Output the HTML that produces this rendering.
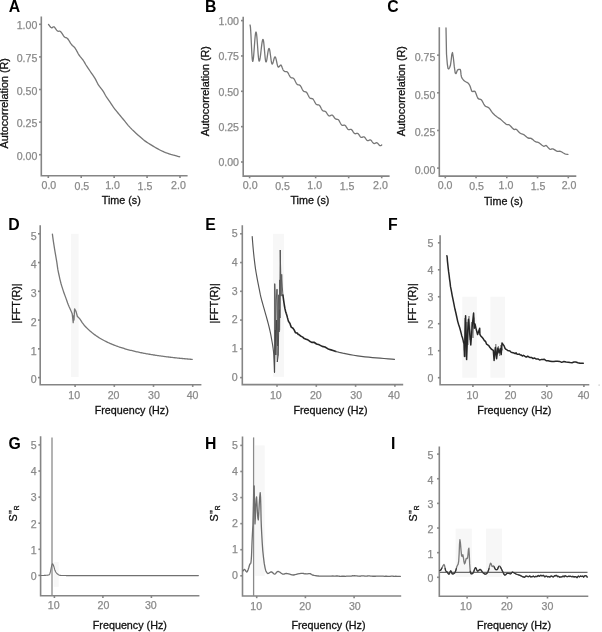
<!DOCTYPE html>
<html><head><meta charset="utf-8"><style>
html,body{margin:0;padding:0;background:#fff;}
svg{display:block;will-change:transform;}
text{font-family:"Liberation Sans",sans-serif;}
.tk{font-size:10.6px;fill:#8a8a8a;stroke:#8a8a8a;stroke-width:0.25px;}
.tt{font-size:10.75px;fill:#111;stroke:#111;stroke-width:0.3px;}
.lt{font-size:15.8px;font-weight:bold;fill:#000;}
</style></head><body>
<svg width="602" height="632" viewBox="0 0 602 632">
<rect width="602" height="632" fill="#fff"/>
<path d="M41.3,17.3 L41.3,175.8 L186.8,175.8" fill="none" stroke="#858585" stroke-width="1.6" stroke-linejoin="miter" stroke-linecap="square"/>
<line x1="39.099999999999994" y1="154.7" x2="41.3" y2="154.7" stroke="#858585" stroke-width="1.6"/>
<text x="37.3" y="159.75" text-anchor="end" class="tk">0.00</text>
<line x1="39.099999999999994" y1="122.1" x2="41.3" y2="122.1" stroke="#858585" stroke-width="1.6"/>
<text x="37.3" y="127.15" text-anchor="end" class="tk">0.25</text>
<line x1="39.099999999999994" y1="89.49999999999999" x2="41.3" y2="89.49999999999999" stroke="#858585" stroke-width="1.6"/>
<text x="37.3" y="94.55" text-anchor="end" class="tk">0.50</text>
<line x1="39.099999999999994" y1="56.89999999999998" x2="41.3" y2="56.89999999999998" stroke="#858585" stroke-width="1.6"/>
<text x="37.3" y="61.95" text-anchor="end" class="tk">0.75</text>
<line x1="39.099999999999994" y1="24.299999999999983" x2="41.3" y2="24.299999999999983" stroke="#858585" stroke-width="1.6"/>
<text x="37.3" y="29.35" text-anchor="end" class="tk">1.00</text>
<line x1="48.3" y1="175.8" x2="48.3" y2="178.0" stroke="#858585" stroke-width="1.6"/>
<text x="48.87" y="189.20" text-anchor="middle" class="tk">0.0</text>
<line x1="81.225" y1="175.8" x2="81.225" y2="178.0" stroke="#858585" stroke-width="1.6"/>
<text x="81.86" y="190.00" text-anchor="middle" class="tk">0.5</text>
<line x1="114.14999999999999" y1="175.8" x2="114.14999999999999" y2="178.0" stroke="#858585" stroke-width="1.6"/>
<text x="112.51" y="189.20" text-anchor="middle" class="tk">1.0</text>
<line x1="147.075" y1="175.8" x2="147.075" y2="178.0" stroke="#858585" stroke-width="1.6"/>
<text x="144.97" y="190.00" text-anchor="middle" class="tk">1.5</text>
<line x1="180.0" y1="175.8" x2="180.0" y2="178.0" stroke="#858585" stroke-width="1.6"/>
<text x="178.49" y="189.20" text-anchor="middle" class="tk">2.0</text>
<text x="121.3" y="203.9" text-anchor="middle" class="tt">Time (s)</text>
<text transform="translate(8.2,103.3) rotate(-90)" x="0" y="0" text-anchor="middle" class="tt">Autocorrelation (R)</text>
<text x="8.7" y="12.1" class="lt">A</text>
<path d="M243.2,17.5 L243.2,176.1 L388.8,176.1" fill="none" stroke="#858585" stroke-width="1.6" stroke-linejoin="miter" stroke-linecap="square"/>
<line x1="241.0" y1="162.0" x2="243.2" y2="162.0" stroke="#858585" stroke-width="1.6"/>
<text x="239.0" y="166.35" text-anchor="end" class="tk">0.00</text>
<line x1="241.0" y1="126.65" x2="243.2" y2="126.65" stroke="#858585" stroke-width="1.6"/>
<text x="239.0" y="131.00" text-anchor="end" class="tk">0.25</text>
<line x1="241.0" y1="91.3" x2="243.2" y2="91.3" stroke="#858585" stroke-width="1.6"/>
<text x="239.0" y="95.65" text-anchor="end" class="tk">0.50</text>
<line x1="241.0" y1="55.94999999999999" x2="243.2" y2="55.94999999999999" stroke="#858585" stroke-width="1.6"/>
<text x="239.0" y="60.30" text-anchor="end" class="tk">0.75</text>
<line x1="241.0" y1="20.599999999999994" x2="243.2" y2="20.599999999999994" stroke="#858585" stroke-width="1.6"/>
<text x="239.0" y="24.95" text-anchor="end" class="tk">1.00</text>
<line x1="249.6" y1="176.1" x2="249.6" y2="178.29999999999998" stroke="#858585" stroke-width="1.6"/>
<text x="250.21" y="189.00" text-anchor="middle" class="tk">0.0</text>
<line x1="282.625" y1="176.1" x2="282.625" y2="178.29999999999998" stroke="#858585" stroke-width="1.6"/>
<text x="282.57" y="189.50" text-anchor="middle" class="tk">0.5</text>
<line x1="315.65" y1="176.1" x2="315.65" y2="178.29999999999998" stroke="#858585" stroke-width="1.6"/>
<text x="314.69" y="189.00" text-anchor="middle" class="tk">1.0</text>
<line x1="348.67499999999995" y1="176.1" x2="348.67499999999995" y2="178.29999999999998" stroke="#858585" stroke-width="1.6"/>
<text x="347.09" y="189.50" text-anchor="middle" class="tk">1.5</text>
<line x1="381.7" y1="176.1" x2="381.7" y2="178.29999999999998" stroke="#858585" stroke-width="1.6"/>
<text x="380.42" y="189.00" text-anchor="middle" class="tk">2.0</text>
<text x="309.9" y="204.1" text-anchor="middle" class="tt">Time (s)</text>
<text transform="translate(208.6,91.2) rotate(-90)" x="0" y="0" text-anchor="middle" class="tt">Autocorrelation (R)</text>
<text x="204.9" y="12.1" class="lt">B</text>
<path d="M439.3,28.0 L439.3,176.1 L575.5,176.1" fill="none" stroke="#858585" stroke-width="1.6" stroke-linejoin="miter" stroke-linecap="square"/>
<line x1="437.1" y1="168.1" x2="439.3" y2="168.1" stroke="#858585" stroke-width="1.6"/>
<text x="435.3" y="173.85" text-anchor="end" class="tk">0.00</text>
<line x1="437.1" y1="130.45" x2="439.3" y2="130.45" stroke="#858585" stroke-width="1.6"/>
<text x="435.3" y="136.20" text-anchor="end" class="tk">0.25</text>
<line x1="437.1" y1="92.8" x2="439.3" y2="92.8" stroke="#858585" stroke-width="1.6"/>
<text x="435.3" y="98.55" text-anchor="end" class="tk">0.50</text>
<line x1="437.1" y1="55.150000000000006" x2="439.3" y2="55.150000000000006" stroke="#858585" stroke-width="1.6"/>
<text x="435.3" y="60.90" text-anchor="end" class="tk">0.75</text>
<line x1="445.3" y1="176.1" x2="445.3" y2="178.29999999999998" stroke="#858585" stroke-width="1.6"/>
<text x="445.16" y="188.50" text-anchor="middle" class="tk">0.0</text>
<line x1="476.05" y1="176.1" x2="476.05" y2="178.29999999999998" stroke="#858585" stroke-width="1.6"/>
<text x="476.51" y="189.50" text-anchor="middle" class="tk">0.5</text>
<line x1="506.8" y1="176.1" x2="506.8" y2="178.29999999999998" stroke="#858585" stroke-width="1.6"/>
<text x="505.97" y="188.50" text-anchor="middle" class="tk">1.0</text>
<line x1="537.55" y1="176.1" x2="537.55" y2="178.29999999999998" stroke="#858585" stroke-width="1.6"/>
<text x="538.03" y="189.50" text-anchor="middle" class="tk">1.5</text>
<line x1="568.3" y1="176.1" x2="568.3" y2="178.29999999999998" stroke="#858585" stroke-width="1.6"/>
<text x="569.04" y="188.50" text-anchor="middle" class="tk">2.0</text>
<text x="503.4" y="204.5" text-anchor="middle" class="tt">Time (s)</text>
<text transform="translate(405.0,91.2) rotate(-90)" x="0" y="0" text-anchor="middle" class="tt">Autocorrelation (R)</text>
<text x="387.3" y="12.1" class="lt">C</text>
<rect x="70.9" y="233.8" width="7.70" height="143.20" fill="#f7f7f7"/>
<path d="M40.2,226.1 L40.2,384.7 L200.6,384.7" fill="none" stroke="#858585" stroke-width="1.6" stroke-linejoin="miter" stroke-linecap="square"/>
<line x1="38.0" y1="377.6" x2="40.2" y2="377.6" stroke="#858585" stroke-width="1.6"/>
<text x="36.6" y="383.45" text-anchor="end" class="tk">0</text>
<line x1="38.0" y1="348.84000000000003" x2="40.2" y2="348.84000000000003" stroke="#858585" stroke-width="1.6"/>
<text x="36.6" y="354.69" text-anchor="end" class="tk">1</text>
<line x1="38.0" y1="320.08000000000004" x2="40.2" y2="320.08000000000004" stroke="#858585" stroke-width="1.6"/>
<text x="36.6" y="325.93" text-anchor="end" class="tk">2</text>
<line x1="38.0" y1="291.32000000000005" x2="40.2" y2="291.32000000000005" stroke="#858585" stroke-width="1.6"/>
<text x="36.6" y="297.17" text-anchor="end" class="tk">3</text>
<line x1="38.0" y1="262.56" x2="40.2" y2="262.56" stroke="#858585" stroke-width="1.6"/>
<text x="36.6" y="268.41" text-anchor="end" class="tk">4</text>
<line x1="38.0" y1="233.8" x2="40.2" y2="233.8" stroke="#858585" stroke-width="1.6"/>
<text x="36.6" y="239.65" text-anchor="end" class="tk">5</text>
<line x1="75.1" y1="384.7" x2="75.1" y2="386.9" stroke="#858585" stroke-width="1.6"/>
<text x="74.17" y="398.60" text-anchor="middle" class="tk">10</text>
<line x1="114.3" y1="384.7" x2="114.3" y2="386.9" stroke="#858585" stroke-width="1.6"/>
<text x="113.55" y="398.60" text-anchor="middle" class="tk">20</text>
<line x1="153.5" y1="384.7" x2="153.5" y2="386.9" stroke="#858585" stroke-width="1.6"/>
<text x="153.95" y="398.60" text-anchor="middle" class="tk">30</text>
<line x1="192.7" y1="384.7" x2="192.7" y2="386.9" stroke="#858585" stroke-width="1.6"/>
<text x="192.55" y="398.60" text-anchor="middle" class="tk">40</text>
<text x="131.7" y="414.3" text-anchor="middle" class="tt">Frequency (Hz)</text>
<text transform="translate(19.6,303.5) rotate(-90)" x="0" y="0" text-anchor="middle" class="tt">|FFT(R)|</text>
<text x="8.2" y="229.6" class="lt">D</text>
<rect x="273.1" y="233.8" width="11.00" height="143.00" fill="#f7f7f7"/>
<path d="M242.3,226.1 L242.3,384.6 L402.4,384.6" fill="none" stroke="#858585" stroke-width="1.6" stroke-linejoin="miter" stroke-linecap="square"/>
<line x1="240.10000000000002" y1="377.6" x2="242.3" y2="377.6" stroke="#858585" stroke-width="1.6"/>
<text x="237.70000000000002" y="380.85" text-anchor="end" class="tk">0</text>
<line x1="240.10000000000002" y1="348.84000000000003" x2="242.3" y2="348.84000000000003" stroke="#858585" stroke-width="1.6"/>
<text x="237.70000000000002" y="352.09" text-anchor="end" class="tk">1</text>
<line x1="240.10000000000002" y1="320.08000000000004" x2="242.3" y2="320.08000000000004" stroke="#858585" stroke-width="1.6"/>
<text x="237.70000000000002" y="323.33" text-anchor="end" class="tk">2</text>
<line x1="240.10000000000002" y1="291.32000000000005" x2="242.3" y2="291.32000000000005" stroke="#858585" stroke-width="1.6"/>
<text x="237.70000000000002" y="294.57" text-anchor="end" class="tk">3</text>
<line x1="240.10000000000002" y1="262.56" x2="242.3" y2="262.56" stroke="#858585" stroke-width="1.6"/>
<text x="237.70000000000002" y="265.81" text-anchor="end" class="tk">4</text>
<line x1="240.10000000000002" y1="233.8" x2="242.3" y2="233.8" stroke="#858585" stroke-width="1.6"/>
<text x="237.70000000000002" y="237.05" text-anchor="end" class="tk">5</text>
<line x1="277.0" y1="384.6" x2="277.0" y2="386.8" stroke="#858585" stroke-width="1.6"/>
<text x="275.88" y="398.60" text-anchor="middle" class="tk">10</text>
<line x1="316.3" y1="384.6" x2="316.3" y2="386.8" stroke="#858585" stroke-width="1.6"/>
<text x="315.78" y="398.60" text-anchor="middle" class="tk">20</text>
<line x1="355.6" y1="384.6" x2="355.6" y2="386.8" stroke="#858585" stroke-width="1.6"/>
<text x="356.20" y="398.60" text-anchor="middle" class="tk">30</text>
<line x1="394.9" y1="384.6" x2="394.9" y2="386.8" stroke="#858585" stroke-width="1.6"/>
<text x="393.96" y="398.60" text-anchor="middle" class="tk">40</text>
<text x="330.5" y="414.1" text-anchor="middle" class="tt">Frequency (Hz)</text>
<text transform="translate(217.9,303.4) rotate(-90)" x="0" y="0" text-anchor="middle" class="tt">|FFT(R)|</text>
<text x="205.2" y="229.6" class="lt">E</text>
<rect x="462.3" y="296.7" width="14.50" height="81.00" fill="#f7f7f7"/>
<rect x="490.4" y="296.7" width="14.50" height="81.00" fill="#f7f7f7"/>
<path d="M440.1,236.1 L440.1,384.8 L588.5,384.8" fill="none" stroke="#858585" stroke-width="1.6" stroke-linejoin="miter" stroke-linecap="square"/>
<line x1="437.90000000000003" y1="377.7" x2="440.1" y2="377.7" stroke="#858585" stroke-width="1.6"/>
<text x="433.5" y="381.85" text-anchor="end" class="tk">0</text>
<line x1="437.90000000000003" y1="350.71999999999997" x2="440.1" y2="350.71999999999997" stroke="#858585" stroke-width="1.6"/>
<text x="433.5" y="354.87" text-anchor="end" class="tk">1</text>
<line x1="437.90000000000003" y1="323.74" x2="440.1" y2="323.74" stroke="#858585" stroke-width="1.6"/>
<text x="433.5" y="327.89" text-anchor="end" class="tk">2</text>
<line x1="437.90000000000003" y1="296.76" x2="440.1" y2="296.76" stroke="#858585" stroke-width="1.6"/>
<text x="433.5" y="300.91" text-anchor="end" class="tk">3</text>
<line x1="437.90000000000003" y1="269.78" x2="440.1" y2="269.78" stroke="#858585" stroke-width="1.6"/>
<text x="433.5" y="273.93" text-anchor="end" class="tk">4</text>
<line x1="437.90000000000003" y1="242.79999999999998" x2="440.1" y2="242.79999999999998" stroke="#858585" stroke-width="1.6"/>
<text x="433.5" y="246.95" text-anchor="end" class="tk">5</text>
<line x1="472.9" y1="384.8" x2="472.9" y2="387.0" stroke="#858585" stroke-width="1.6"/>
<text x="472.42" y="398.80" text-anchor="middle" class="tk">10</text>
<line x1="509.9" y1="384.8" x2="509.9" y2="387.0" stroke="#858585" stroke-width="1.6"/>
<text x="510.56" y="398.80" text-anchor="middle" class="tk">20</text>
<line x1="546.9" y1="384.8" x2="546.9" y2="387.0" stroke="#858585" stroke-width="1.6"/>
<text x="546.67" y="398.80" text-anchor="middle" class="tk">30</text>
<line x1="583.9" y1="384.8" x2="583.9" y2="387.0" stroke="#858585" stroke-width="1.6"/>
<text x="583.60" y="398.80" text-anchor="middle" class="tk">40</text>
<text x="514.4" y="413.7" text-anchor="middle" class="tt">Frequency (Hz)</text>
<text transform="translate(415.9,303.4) rotate(-90)" x="0" y="0" text-anchor="middle" class="tt">|FFT(R)|</text>
<text x="387.9" y="229.6" class="lt">F</text>
<rect x="53.6" y="562.0" width="5.10" height="24.80" fill="#f7f7f7"/>
<path d="M40.6,437.1 L40.6,595.8 L198.6,595.8" fill="none" stroke="#858585" stroke-width="1.6" stroke-linejoin="miter" stroke-linecap="square"/>
<line x1="38.4" y1="575.4" x2="40.6" y2="575.4" stroke="#858585" stroke-width="1.6"/>
<text x="36.6" y="579.75" text-anchor="end" class="tk">0</text>
<line x1="38.4" y1="549.3" x2="40.6" y2="549.3" stroke="#858585" stroke-width="1.6"/>
<text x="36.6" y="553.65" text-anchor="end" class="tk">1</text>
<line x1="38.4" y1="523.1999999999999" x2="40.6" y2="523.1999999999999" stroke="#858585" stroke-width="1.6"/>
<text x="36.6" y="527.55" text-anchor="end" class="tk">2</text>
<line x1="38.4" y1="497.09999999999997" x2="40.6" y2="497.09999999999997" stroke="#858585" stroke-width="1.6"/>
<text x="36.6" y="501.45" text-anchor="end" class="tk">3</text>
<line x1="38.4" y1="471.0" x2="40.6" y2="471.0" stroke="#858585" stroke-width="1.6"/>
<text x="36.6" y="475.35" text-anchor="end" class="tk">4</text>
<line x1="38.4" y1="444.9" x2="40.6" y2="444.9" stroke="#858585" stroke-width="1.6"/>
<text x="36.6" y="449.25" text-anchor="end" class="tk">5</text>
<line x1="54.4" y1="595.8" x2="54.4" y2="598.0" stroke="#858585" stroke-width="1.6"/>
<text x="53.67" y="609.20" text-anchor="middle" class="tk">10</text>
<line x1="102.9" y1="595.8" x2="102.9" y2="598.0" stroke="#858585" stroke-width="1.6"/>
<text x="103.48" y="609.20" text-anchor="middle" class="tk">20</text>
<line x1="151.4" y1="595.8" x2="151.4" y2="598.0" stroke="#858585" stroke-width="1.6"/>
<text x="150.81" y="609.20" text-anchor="middle" class="tk">30</text>
<text x="129.85" y="629.1" text-anchor="middle" class="tt">Frequency (Hz)</text>
<g transform="translate(17.0,513.4) rotate(-90)"><text x="0" y="0" text-anchor="middle" class="tt">S<tspan font-size="10.6" dx="0.1">&quot;</tspan><tspan font-size="6.6" dy="2.0" dx="0.2">R</tspan></text></g>
<text x="8.4" y="448.5" class="lt">G</text>
<rect x="255.0" y="445.4" width="9.70" height="130.40" fill="#f7f7f7"/>
<path d="M242.5,437.4 L242.5,596.0 L400.4,596.0" fill="none" stroke="#858585" stroke-width="1.6" stroke-linejoin="miter" stroke-linecap="square"/>
<line x1="240.3" y1="575.8" x2="242.5" y2="575.8" stroke="#858585" stroke-width="1.6"/>
<text x="237.9" y="579.05" text-anchor="end" class="tk">0</text>
<line x1="240.3" y1="549.7199999999999" x2="242.5" y2="549.7199999999999" stroke="#858585" stroke-width="1.6"/>
<text x="237.9" y="552.97" text-anchor="end" class="tk">1</text>
<line x1="240.3" y1="523.64" x2="242.5" y2="523.64" stroke="#858585" stroke-width="1.6"/>
<text x="237.9" y="526.89" text-anchor="end" class="tk">2</text>
<line x1="240.3" y1="497.55999999999995" x2="242.5" y2="497.55999999999995" stroke="#858585" stroke-width="1.6"/>
<text x="237.9" y="500.81" text-anchor="end" class="tk">3</text>
<line x1="240.3" y1="471.47999999999996" x2="242.5" y2="471.47999999999996" stroke="#858585" stroke-width="1.6"/>
<text x="237.9" y="474.73" text-anchor="end" class="tk">4</text>
<line x1="240.3" y1="445.4" x2="242.5" y2="445.4" stroke="#858585" stroke-width="1.6"/>
<text x="237.9" y="448.65" text-anchor="end" class="tk">5</text>
<line x1="256.7" y1="596.0" x2="256.7" y2="598.2" stroke="#858585" stroke-width="1.6"/>
<text x="256.21" y="610.00" text-anchor="middle" class="tk">10</text>
<line x1="305.4" y1="596.0" x2="305.4" y2="598.2" stroke="#858585" stroke-width="1.6"/>
<text x="305.15" y="610.00" text-anchor="middle" class="tk">20</text>
<line x1="354.1" y1="596.0" x2="354.1" y2="598.2" stroke="#858585" stroke-width="1.6"/>
<text x="354.78" y="610.00" text-anchor="middle" class="tk">30</text>
<text x="328.5" y="629.2" text-anchor="middle" class="tt">Frequency (Hz)</text>
<g transform="translate(218.4,513.4) rotate(-90)"><text x="0" y="0" text-anchor="middle" class="tt">S<tspan font-size="10.6" dx="0.1">&quot;</tspan><tspan font-size="6.6" dy="2.0" dx="0.2">R</tspan></text></g>
<text x="205.1" y="448.6" class="lt">H</text>
<rect x="455.6" y="528.6" width="16.20" height="48.50" fill="#f7f7f7"/>
<rect x="486.0" y="528.6" width="16.10" height="48.50" fill="#f7f7f7"/>
<path d="M439.3,447.4 L439.3,596.3 L587.5,596.3" fill="none" stroke="#858585" stroke-width="1.6" stroke-linejoin="miter" stroke-linecap="square"/>
<line x1="437.1" y1="577.3" x2="439.3" y2="577.3" stroke="#858585" stroke-width="1.6"/>
<text x="433.40000000000003" y="582.35" text-anchor="end" class="tk">0</text>
<line x1="437.1" y1="552.66" x2="439.3" y2="552.66" stroke="#858585" stroke-width="1.6"/>
<text x="433.40000000000003" y="557.71" text-anchor="end" class="tk">1</text>
<line x1="437.1" y1="528.02" x2="439.3" y2="528.02" stroke="#858585" stroke-width="1.6"/>
<text x="433.40000000000003" y="533.07" text-anchor="end" class="tk">2</text>
<line x1="437.1" y1="503.37999999999994" x2="439.3" y2="503.37999999999994" stroke="#858585" stroke-width="1.6"/>
<text x="433.40000000000003" y="508.43" text-anchor="end" class="tk">3</text>
<line x1="437.1" y1="478.73999999999995" x2="439.3" y2="478.73999999999995" stroke="#858585" stroke-width="1.6"/>
<text x="433.40000000000003" y="483.79" text-anchor="end" class="tk">4</text>
<line x1="437.1" y1="454.09999999999997" x2="439.3" y2="454.09999999999997" stroke="#858585" stroke-width="1.6"/>
<text x="433.40000000000003" y="459.15" text-anchor="end" class="tk">5</text>
<line x1="467.1" y1="596.3" x2="467.1" y2="598.5" stroke="#858585" stroke-width="1.6"/>
<text x="465.98" y="610.20" text-anchor="middle" class="tk">10</text>
<line x1="507.3" y1="596.3" x2="507.3" y2="598.5" stroke="#858585" stroke-width="1.6"/>
<text x="506.86" y="610.20" text-anchor="middle" class="tk">20</text>
<line x1="547.5" y1="596.3" x2="547.5" y2="598.5" stroke="#858585" stroke-width="1.6"/>
<text x="547.39" y="610.20" text-anchor="middle" class="tk">30</text>
<text x="514.0" y="628.7" text-anchor="middle" class="tt">Frequency (Hz)</text>
<g transform="translate(417.2,513.4) rotate(-90)"><text x="0" y="0" text-anchor="middle" class="tt">S<tspan font-size="10.6" dx="0.1">&quot;</tspan><tspan font-size="6.6" dy="2.0" dx="0.2">R</tspan></text></g>
<text x="390.9" y="448.6" class="lt">I</text>
<path d="M48.50,24.50 L49.05,25.19 L49.84,26.21 L50.71,27.20 L51.50,27.80 L52.14,27.73 L52.72,27.24 L53.32,26.79 L54.00,26.80 L54.82,27.57 L55.72,28.81 L56.64,30.09 L57.50,31.00 L58.26,31.27 L58.97,31.17 L59.69,31.11 L60.50,31.50 L61.45,32.62 L62.50,34.19 L63.55,35.79 L64.50,37.00 L65.30,37.55 L66.00,37.72 L66.70,37.90 L67.50,38.50 L68.44,39.74 L69.47,41.38 L70.51,43.07 L71.50,44.50 L72.40,45.47 L73.25,46.19 L74.10,46.94 L75.00,48.00 L75.96,49.55 L76.97,51.41 L77.99,53.31 L79.00,55.00 L80.02,56.39 L81.06,57.62 L82.07,58.80 L83.00,60.00 L83.80,61.23 L84.50,62.44 L85.20,63.68 L86.00,65.00 L86.91,66.40 L87.88,67.85 L88.91,69.38 L90.00,71.00 L91.22,72.77 L92.54,74.67 L93.84,76.58 L95.00,78.40 L95.94,80.10 L96.73,81.74 L97.51,83.33 L98.40,84.90 L99.47,86.44 L100.64,87.93 L101.82,89.41 L102.90,90.90 L103.85,92.42 L104.71,93.96 L105.55,95.47 L106.40,96.90 L107.26,98.20 L108.12,99.40 L108.99,100.60 L109.90,101.90 L110.86,103.35 L111.86,104.89 L112.88,106.44 L113.90,107.90 L114.90,109.22 L115.89,110.45 L116.91,111.68 L118.00,113.00 L119.14,114.38 L120.32,115.79 L121.59,117.31 L123.00,119.00 L124.59,120.95 L126.32,123.11 L128.14,125.31 L130.00,127.40 L131.93,129.37 L133.95,131.30 L135.97,133.15 L137.90,134.90 L139.71,136.54 L141.46,138.09 L143.17,139.54 L144.90,140.90 L146.67,142.15 L148.46,143.31 L150.22,144.38 L151.90,145.40 L153.47,146.36 L154.96,147.24 L156.42,148.08 L157.90,148.90 L159.38,149.70 L160.84,150.46 L162.34,151.20 L163.90,151.90 L165.56,152.57 L167.29,153.22 L169.05,153.83 L170.80,154.40 L172.66,154.95 L174.61,155.48 L176.41,155.94 L177.80,156.30 L178.68,156.54 L179.19,156.67 L179.48,156.74 L179.70,156.80" fill="none" stroke="#767676" stroke-width="1.3" stroke-linejoin="round" stroke-linecap="round" />
<path d="M250.00,25.00 L250.22,25.62 L250.45,27.44 L250.68,30.33 L250.90,34.10 L251.12,38.49 L251.35,43.20 L251.57,47.91 L251.80,52.30 L252.02,56.07 L252.25,58.96 L252.47,60.78 L252.70,61.40 L252.97,60.90 L253.25,59.43 L253.52,57.09 L253.80,54.05 L254.07,50.50 L254.35,46.70 L254.62,42.90 L254.90,39.35 L255.18,36.31 L255.45,33.97 L255.72,32.50 L256.00,32.00 L256.27,32.50 L256.53,33.95 L256.80,36.26 L257.07,39.27 L257.33,42.78 L257.60,46.55 L257.87,50.32 L258.13,53.83 L258.40,56.84 L258.67,59.15 L258.93,60.60 L259.20,61.10 L259.52,60.73 L259.83,59.65 L260.15,57.92 L260.47,55.68 L260.78,53.06 L261.10,50.25 L261.42,47.44 L261.73,44.83 L262.05,42.58 L262.37,40.85 L262.68,39.77 L263.00,39.40 L263.25,39.78 L263.50,40.91 L263.75,42.70 L264.00,45.02 L264.25,47.74 L264.50,50.65 L264.75,53.56 L265.00,56.27 L265.25,58.60 L265.50,60.39 L265.75,61.52 L266.00,61.90 L266.25,61.67 L266.50,61.00 L266.75,59.92 L267.00,58.52 L267.25,56.90 L267.50,55.15 L267.75,53.40 L268.00,51.77 L268.25,50.38 L268.50,49.30 L268.75,48.63 L269.00,48.40 L269.27,48.67 L269.53,49.45 L269.80,50.70 L270.07,52.32 L270.33,54.22 L270.60,56.25 L270.87,58.28 L271.13,60.17 L271.40,61.80 L271.67,63.05 L271.93,63.83 L272.20,64.10 L272.43,63.98 L272.67,63.62 L272.90,63.05 L273.13,62.30 L273.37,61.43 L273.60,60.50 L273.83,59.57 L274.07,58.70 L274.30,57.95 L274.53,57.38 L274.77,57.02 L275.00,56.90 L275.28,57.07 L275.57,57.58 L275.85,58.39 L276.13,59.45 L276.42,60.68 L276.70,62.00 L276.98,63.32 L277.27,64.55 L277.55,65.61 L277.83,66.42 L278.12,66.93 L278.40,67.10 L278.62,67.06 L278.83,66.96 L279.05,66.79 L279.27,66.58 L279.48,66.32 L279.70,66.05 L279.92,65.78 L280.13,65.53 L280.35,65.31 L280.57,65.14 L280.78,65.04 L281.00,65.00 L281.14,65.21 L281.29,65.45 L281.43,65.74 L281.58,66.05 L281.72,66.39 L281.86,66.74 L282.01,67.11 L282.15,67.49 L282.30,67.86 L282.44,68.23 L282.58,68.59 L282.73,68.94 L282.87,69.26 L283.02,69.56 L283.16,69.84 L283.31,70.09 L283.45,70.31 L283.59,70.50 L283.74,70.66 L283.88,70.80 L284.03,70.92 L284.17,71.07 L284.31,71.19 L284.46,71.30 L284.60,71.39 L284.75,71.46 L284.89,71.52 L285.03,71.56 L285.18,71.58 L285.32,71.60 L285.47,71.60 L285.61,71.60 L285.75,71.60 L285.90,71.59 L286.04,71.59 L286.19,71.59 L286.33,71.60 L286.47,71.62 L286.62,71.65 L286.76,71.70 L286.91,71.76 L287.05,71.84 L287.19,71.95 L287.34,72.07 L287.48,72.21 L287.63,72.37 L287.77,72.55 L287.92,72.74 L288.06,72.96 L288.20,73.19 L288.35,73.44 L288.49,73.70 L288.64,73.97 L288.78,74.25 L288.92,74.53 L289.07,74.81 L289.21,75.09 L289.36,75.37 L289.50,75.64 L289.64,75.91 L289.79,76.16 L289.93,76.40 L290.08,76.62 L290.22,76.82 L290.36,77.01 L290.51,77.18 L290.65,77.33 L290.80,77.46 L290.94,77.57 L291.08,77.66 L291.23,77.73 L291.37,77.79 L291.52,77.83 L291.66,77.86 L291.80,77.89 L291.95,77.90 L292.09,77.91 L292.24,77.92 L292.38,77.94 L292.53,77.95 L292.67,77.97 L292.81,78.01 L292.96,78.05 L293.10,78.11 L293.25,78.18 L293.39,78.28 L293.53,78.39 L293.68,78.52 L293.82,78.67 L293.97,78.84 L294.11,79.03 L294.25,79.24 L294.40,79.47 L294.54,79.71 L294.69,79.97 L294.83,80.25 L294.97,80.53 L295.12,80.82 L295.26,81.12 L295.41,81.42 L295.55,81.72 L295.69,82.02 L295.84,82.31 L295.98,82.59 L296.13,82.87 L296.27,83.12 L296.41,83.37 L296.56,83.59 L296.70,83.80 L296.85,83.99 L296.99,84.16 L297.14,84.31 L297.28,84.43 L297.42,84.54 L297.57,84.63 L297.71,84.70 L297.86,84.76 L298.00,84.80 L298.14,84.83 L298.29,84.85 L298.43,84.87 L298.58,84.88 L298.72,84.90 L298.86,84.91 L299.01,84.93 L299.15,84.96 L299.30,85.00 L299.44,85.05 L299.58,85.11 L299.73,85.19 L299.87,85.29 L300.02,85.41 L300.16,85.55 L300.30,85.70 L300.45,85.88 L300.59,86.08 L300.74,86.29 L300.88,86.53 L301.02,86.77 L301.17,87.04 L301.31,87.31 L301.46,87.59 L301.60,87.88 L301.75,88.18 L301.89,88.47 L302.03,88.76 L302.18,89.05 L302.32,89.33 L302.47,89.60 L302.61,89.86 L302.75,90.11 L302.90,90.34 L303.04,90.55 L303.19,90.74 L303.33,90.92 L303.47,91.07 L303.62,91.20 L303.76,91.32 L303.91,91.42 L304.05,91.49 L304.19,91.56 L304.34,91.61 L304.48,91.65 L304.63,91.67 L304.77,91.70 L304.91,91.71 L305.06,91.73 L305.20,91.75 L305.35,91.77 L305.49,91.80 L305.63,91.83 L305.78,91.88 L305.92,91.94 L306.07,92.02 L306.21,92.12 L306.36,92.23 L306.50,92.37 L306.64,92.52 L306.79,92.69 L306.93,92.88 L307.08,93.10 L307.22,93.32 L307.36,93.57 L307.51,93.83 L307.65,94.10 L307.80,94.38 L307.94,94.67 L308.08,94.97 L308.23,95.26 L308.37,95.56 L308.52,95.85 L308.66,96.13 L308.80,96.41 L308.95,96.67 L309.09,96.92 L309.24,97.16 L309.38,97.37 L309.52,97.57 L309.67,97.75 L309.81,97.91 L309.96,98.04 L310.10,98.16 L310.24,98.26 L310.39,98.34 L310.53,98.40 L310.68,98.44 L310.82,98.47 L310.97,98.50 L311.11,98.51 L311.25,98.51 L311.40,98.52 L311.54,98.52 L311.69,98.52 L311.83,98.53 L311.97,98.55 L312.12,98.58 L312.26,98.62 L312.41,98.68 L312.55,98.75 L312.69,98.84 L312.84,98.95 L312.98,99.08 L313.13,99.23 L313.27,99.39 L313.41,99.58 L313.56,99.78 L313.70,100.01 L313.85,100.24 L313.99,100.49 L314.13,100.76 L314.28,101.03 L314.42,101.30 L314.57,101.58 L314.71,101.87 L314.85,102.14 L315.00,102.42 L315.14,102.68 L315.29,102.94 L315.43,103.19 L315.58,103.41 L315.72,103.63 L315.86,103.82 L316.01,104.00 L316.15,104.16 L316.30,104.30 L316.44,104.41 L316.58,104.51 L316.73,104.59 L316.87,104.66 L317.02,104.71 L317.16,104.74 L317.30,104.76 L317.45,104.77 L317.59,104.78 L317.74,104.78 L317.88,104.78 L318.02,104.79 L318.17,104.79 L318.31,104.81 L318.46,104.83 L318.60,104.87 L318.74,104.92 L318.89,104.98 L319.03,105.07 L319.18,105.17 L319.32,105.29 L319.46,105.43 L319.61,105.59 L319.75,105.77 L319.90,105.97 L320.04,106.19 L320.19,106.42 L320.33,106.67 L320.47,106.93 L320.62,107.20 L320.76,107.47 L320.91,107.75 L321.05,108.04 L321.19,108.32 L321.34,108.59 L321.48,108.87 L321.63,109.13 L321.77,109.38 L321.91,109.61 L322.06,109.83 L322.20,110.04 L322.35,110.22 L322.49,110.39 L322.63,110.53 L322.78,110.66 L322.92,110.77 L323.07,110.86 L323.21,110.94 L323.35,111.00 L323.50,111.05 L323.64,111.09 L323.79,111.11 L323.93,111.13 L324.07,111.15 L324.22,111.16 L324.36,111.17 L324.51,111.19 L324.65,111.21 L324.80,111.24 L324.94,111.28 L325.08,111.33 L325.23,111.39 L325.37,111.47 L325.52,111.56 L325.66,111.67 L325.80,111.80 L325.95,111.95 L326.09,112.11 L326.24,112.28 L326.38,112.48 L326.52,112.68 L326.67,112.89 L326.81,113.12 L326.96,113.35 L327.10,113.58 L327.24,113.81 L327.39,114.04 L327.53,114.27 L327.68,114.49 L327.82,114.71 L327.96,114.91 L328.11,115.10 L328.25,115.28 L328.40,115.44 L328.54,115.58 L328.68,115.70 L328.83,115.80 L328.97,115.88 L329.12,115.93 L329.26,115.97 L329.41,115.98 L329.55,115.98 L329.69,115.95 L329.84,115.91 L329.98,115.86 L330.13,115.79 L330.27,115.71 L330.41,115.63 L330.56,115.54 L330.70,115.45 L330.85,115.36 L330.99,115.28 L331.13,115.21 L331.28,115.14 L331.42,115.09 L331.57,115.05 L331.71,115.03 L331.85,115.03 L332.00,115.04 L332.14,115.08 L332.29,115.14 L332.43,115.21 L332.57,115.31 L332.72,115.43 L332.86,115.57 L333.01,115.73 L333.15,115.90 L333.29,116.08 L333.44,116.28 L333.58,116.48 L333.73,116.69 L333.87,116.90 L334.02,117.12 L334.16,117.33 L334.30,117.54 L334.45,117.74 L334.59,117.94 L334.74,118.12 L334.88,118.29 L335.02,118.45 L335.17,118.59 L335.31,118.72 L335.46,118.83 L335.60,118.93 L335.74,119.02 L335.89,119.09 L336.03,119.14 L336.18,119.18 L336.32,119.21 L336.46,119.24 L336.61,119.25 L336.75,119.26 L336.90,119.27 L337.04,119.28 L337.18,119.29 L337.33,119.30 L337.47,119.32 L337.62,119.36 L337.76,119.40 L337.90,119.47 L338.05,119.54 L338.19,119.64 L338.34,119.75 L338.48,119.88 L338.63,120.04 L338.77,120.21 L338.91,120.40 L339.06,120.61 L339.20,120.83 L339.35,121.07 L339.49,121.33 L339.63,121.60 L339.78,121.87 L339.92,122.15 L340.07,122.43 L340.21,122.72 L340.35,123.00 L340.50,123.27 L340.64,123.54 L340.79,123.79 L340.93,124.03 L341.07,124.25 L341.22,124.46 L341.36,124.64 L341.51,124.80 L341.65,124.95 L341.79,125.07 L341.94,125.17 L342.08,125.25 L342.23,125.31 L342.37,125.36 L342.51,125.38 L342.66,125.39 L342.80,125.38 L342.95,125.36 L343.09,125.33 L343.24,125.30 L343.38,125.26 L343.52,125.22 L343.67,125.18 L343.81,125.15 L343.96,125.12 L344.10,125.10 L344.24,125.10 L344.39,125.11 L344.53,125.13 L344.68,125.18 L344.82,125.24 L344.96,125.32 L345.11,125.42 L345.25,125.54 L345.40,125.68 L345.54,125.84 L345.68,126.01 L345.83,126.20 L345.97,126.41 L346.12,126.62 L346.26,126.85 L346.40,127.08 L346.55,127.32 L346.69,127.55 L346.84,127.79 L346.98,128.02 L347.12,128.24 L347.27,128.46 L347.41,128.66 L347.56,128.85 L347.70,129.02 L347.85,129.17 L347.99,129.31 L348.13,129.42 L348.28,129.52 L348.42,129.59 L348.57,129.65 L348.71,129.68 L348.85,129.70 L349.00,129.70 L349.14,129.69 L349.29,129.67 L349.43,129.63 L349.57,129.59 L349.72,129.54 L349.86,129.50 L350.01,129.45 L350.15,129.41 L350.29,129.37 L350.44,129.34 L350.58,129.33 L350.73,129.32 L350.87,129.34 L351.01,129.37 L351.16,129.42 L351.30,129.49 L351.45,129.58 L351.59,129.68 L351.73,129.81 L351.88,129.96 L352.02,130.12 L352.17,130.30 L352.31,130.49 L352.46,130.70 L352.60,130.92 L352.74,131.14 L352.89,131.37 L353.03,131.60 L353.18,131.83 L353.32,132.06 L353.46,132.28 L353.61,132.49 L353.75,132.69 L353.90,132.88 L354.04,133.05 L354.18,133.20 L354.33,133.34 L354.47,133.45 L354.62,133.55 L354.76,133.63 L354.90,133.68 L355.05,133.72 L355.19,133.74 L355.34,133.74 L355.48,133.73 L355.62,133.70 L355.77,133.67 L355.91,133.62 L356.06,133.57 L356.20,133.52 L356.34,133.46 L356.49,133.41 L356.63,133.37 L356.78,133.33 L356.92,133.30 L357.07,133.29 L357.21,133.29 L357.35,133.30 L357.50,133.34 L357.64,133.39 L357.79,133.46 L357.93,133.55 L358.07,133.67 L358.22,133.80 L358.36,133.94 L358.51,134.11 L358.65,134.29 L358.79,134.48 L358.94,134.69 L359.08,134.90 L359.23,135.12 L359.37,135.34 L359.51,135.56 L359.66,135.78 L359.80,136.00 L359.95,136.20 L360.09,136.40 L360.23,136.58 L360.38,136.75 L360.52,136.90 L360.67,137.04 L360.81,137.15 L360.95,137.24 L361.10,137.32 L361.24,137.37 L361.39,137.41 L361.53,137.42 L361.68,137.42 L361.82,137.40 L361.96,137.37 L362.11,137.33 L362.25,137.28 L362.40,137.22 L362.54,137.15 L362.68,137.09 L362.83,137.02 L362.97,136.96 L363.12,136.91 L363.26,136.86 L363.40,136.83 L363.55,136.81 L363.69,136.81 L363.84,136.83 L363.98,136.86 L364.12,136.92 L364.27,136.99 L364.41,137.08 L364.56,137.19 L364.70,137.32 L364.84,137.47 L364.99,137.63 L365.13,137.81 L365.28,138.00 L365.42,138.20 L365.56,138.41 L365.71,138.62 L365.85,138.83 L366.00,139.04 L366.14,139.25 L366.29,139.45 L366.43,139.64 L366.57,139.82 L366.72,139.99 L366.86,140.14 L367.01,140.27 L367.15,140.38 L367.29,140.48 L367.44,140.55 L367.58,140.60 L367.73,140.64 L367.87,140.65 L368.01,140.65 L368.16,140.63 L368.30,140.60 L368.45,140.55 L368.59,140.49 L368.73,140.43 L368.88,140.36 L369.02,140.28 L369.17,140.21 L369.31,140.14 L369.45,140.07 L369.60,140.02 L369.74,139.97 L369.89,139.94 L370.03,139.92 L370.17,139.92 L370.32,139.94 L370.46,139.98 L370.61,140.03 L370.75,140.11 L370.90,140.20 L371.04,140.32 L371.18,140.45 L371.33,140.60 L371.47,140.76 L371.62,140.94 L371.76,141.12 L371.90,141.32 L372.05,141.52 L372.19,141.72 L372.34,141.92 L372.48,142.12 L372.62,142.31 L372.77,142.50 L372.91,142.68 L373.06,142.84 L373.20,142.99 L373.34,143.12 L373.49,143.24 L373.63,143.34 L373.78,143.41 L373.92,143.47 L374.06,143.51 L374.21,143.53 L374.35,143.53 L374.50,143.51 L374.64,143.48 L374.78,143.44 L374.93,143.38 L375.07,143.31 L375.22,143.24 L375.36,143.17 L375.51,143.09 L375.65,143.01 L375.79,142.94 L375.94,142.88 L376.08,142.82 L376.23,142.78 L376.37,142.75 L376.51,142.73 L376.66,142.74 L376.80,142.76 L376.95,142.80 L377.09,142.86 L377.23,142.93 L377.38,143.03 L377.52,143.14 L377.67,143.27 L377.81,143.41 L377.95,143.57 L378.10,143.74 L378.24,143.91 L378.39,144.09 L378.53,144.27 L378.67,144.45 L378.82,144.63 L378.96,144.81 L379.11,144.97 L379.25,145.12 L379.39,145.26 L379.54,145.38 L379.68,145.49 L379.83,145.58 L379.97,145.64 L380.12,145.69 L380.26,145.72 L380.40,145.72 L380.55,145.71 L380.69,145.67 L380.84,145.62 L380.98,145.54 L381.12,145.46 L381.27,145.36 L381.41,145.24 L381.56,145.12 L381.70,145.00" fill="none" stroke="#767676" stroke-width="1.3" stroke-linejoin="round" stroke-linecap="round" />
<path d="M446.00,28.00 L446.50,54.00 L446.85,58.43 L447.37,64.46 L448.00,68.50 L448.78,69.00 L449.67,67.50 L450.50,65.00 L451.18,60.28 L451.80,54.56 L452.50,52.50 L453.36,57.76 L454.30,66.69 L455.20,73.00 L456.02,73.65 L456.79,71.69 L457.50,70.00 L458.13,69.61 L458.69,69.50 L459.20,69.50 L459.67,69.35 L460.10,69.31 L460.50,70.00 L460.78,71.96 L461.03,74.65 L461.50,77.00 L462.33,78.63 L463.39,79.93 L464.50,81.00 L465.69,81.78 L466.93,82.33 L468.00,83.00 L468.78,83.84 L469.39,84.79 L470.00,86.00 L470.63,87.82 L471.26,89.91 L472.00,91.40 L472.93,91.54 L473.96,91.08 L475.00,91.40 L475.99,93.42 L476.97,96.21 L478.00,98.40 L479.10,99.14 L480.24,99.27 L481.40,99.90 L482.57,101.71 L483.77,104.03 L485.00,105.90 L486.27,106.74 L487.58,107.13 L488.90,107.90 L490.15,109.46 L491.41,111.40 L492.90,113.30 L494.93,115.17 L497.19,116.99 L498.90,118.30 L499.44,118.58 L499.44,118.35 L500.00,118.70 L501.80,120.37 L504.17,122.61 L506.20,124.30 L507.41,124.73 L508.29,124.60 L509.30,124.90 L510.74,126.25 L512.33,128.02 L513.70,129.30 L514.63,129.49 L515.35,129.19 L516.20,129.30 L517.34,130.34 L518.61,131.79 L519.90,133.00 L521.14,133.62 L522.39,134.01 L523.70,134.60 L525.14,135.71 L526.64,137.02 L528.00,138.00 L529.07,138.25 L530.01,138.16 L531.10,138.40 L532.52,139.37 L534.08,140.67 L535.50,141.70 L536.56,142.07 L537.47,142.18 L538.60,142.60 L540.22,143.79 L542.05,145.30 L543.60,146.30 L544.57,146.20 L545.27,145.60 L546.10,145.50 L547.27,146.55 L548.57,148.10 L549.80,149.20 L550.83,149.30 L551.79,148.95 L552.90,148.90 L554.32,149.59 L555.88,150.58 L557.30,151.30 L558.38,151.39 L559.32,151.20 L560.40,151.30 L561.82,152.02 L563.38,153.01 L564.80,153.80 L566.04,154.16 L567.14,154.31 L567.90,154.40" fill="none" stroke="#767676" stroke-width="1.3" stroke-linejoin="round" stroke-linecap="round" />
<path d="M52.40,234.20 L52.67,236.22 L53.06,239.13 L53.50,242.20 L53.96,245.22 L54.46,248.41 L55.00,251.70 L55.61,255.22 L56.25,258.84 L56.80,262.10 L57.17,264.71 L57.46,266.95 L57.80,269.20 L58.26,271.60 L58.77,274.00 L59.30,276.40 L59.83,278.77 L60.39,281.14 L61.00,283.50 L61.67,285.84 L62.40,288.18 L63.20,290.60 L64.10,293.19 L65.07,295.86 L66.00,298.40 L66.83,300.77 L67.61,303.01 L68.40,305.10 L69.24,307.04 L70.07,308.83 L70.80,310.40 L71.39,311.77 L71.87,312.92 L72.20,313.70 L72.70,318.00 L73.20,322.70 L73.60,316.00 L74.00,320.00 L74.60,308.90 L76.00,311.30 L77.40,316.50 L78.03,317.08 L78.93,317.93 L79.80,318.90 L80.63,320.11 L81.44,321.45 L82.00,322.40 L84.00,324.97 L84.91,325.99 L85.82,326.96 L86.73,327.89 L87.64,328.79 L88.55,329.65 L89.46,330.49 L90.36,331.29 L91.27,332.06 L92.18,332.81 L93.09,333.52 L94.00,334.22 L94.91,334.89 L95.82,335.54 L96.73,336.16 L97.64,336.77 L98.55,337.36 L99.46,337.93 L100.37,338.48 L101.28,339.01 L102.18,339.53 L103.09,340.03 L104.00,340.52 L104.91,340.99 L105.82,341.45 L106.73,341.90 L107.64,342.33 L108.55,342.76 L109.46,343.17 L110.37,343.57 L111.28,343.96 L112.19,344.34 L113.10,344.71 L114.01,345.07 L114.91,345.42 L115.82,345.76 L116.73,346.09 L117.64,346.42 L118.55,346.74 L119.46,347.05 L120.37,347.35 L121.28,347.64 L122.19,347.93 L123.10,348.21 L124.01,348.49 L124.92,348.76 L125.83,349.02 L126.73,349.28 L127.64,349.53 L128.55,349.78 L129.46,350.02 L130.37,350.26 L131.28,350.49 L132.19,350.71 L133.10,350.94 L134.01,351.15 L134.92,351.37 L135.83,351.57 L136.74,351.78 L137.65,351.98 L138.55,352.18 L139.46,352.37 L140.37,352.56 L141.28,352.74 L142.19,352.92 L143.10,353.10 L144.01,353.28 L144.92,353.45 L145.83,353.62 L146.74,353.78 L147.65,353.95 L148.56,354.11 L149.47,354.26 L150.37,354.42 L151.28,354.57 L152.19,354.72 L153.10,354.87 L154.01,355.01 L154.92,355.15 L155.83,355.29 L156.74,355.43 L157.65,355.56 L158.56,355.69 L159.47,355.83 L160.38,355.95 L161.29,356.08 L162.19,356.20 L163.10,356.33 L164.01,356.45 L164.92,356.56 L165.83,356.68 L166.74,356.80 L167.65,356.91 L168.56,357.02 L169.47,357.13 L170.38,357.24 L171.29,357.35 L172.20,357.45 L173.11,357.55 L174.02,357.66 L174.92,357.76 L175.83,357.85 L176.74,357.95 L177.65,358.05 L178.56,358.14 L179.47,358.24 L180.38,358.33 L181.29,358.42 L182.20,358.51 L183.11,358.60 L184.02,358.69 L184.93,358.77 L185.84,358.86 L186.74,358.94 L187.65,359.02 L188.56,359.11 L189.47,359.19 L190.38,359.27 L191.29,359.34 L192.20,359.42" fill="none" stroke="#767676" stroke-width="1.3" stroke-linejoin="round" stroke-linecap="round" />
<path d="M252.20,236.60 L252.40,239.15 L252.68,242.81 L253.00,246.60 L253.33,250.22 L253.70,253.96 L254.10,257.70 L254.53,261.40 L254.99,265.11 L255.50,268.80 L256.09,272.47 L256.73,276.13 L257.40,279.80 L258.15,283.70 L258.94,287.62 L259.60,290.90 L260.03,293.11 L260.34,294.69 L260.70,296.30 L261.16,298.15 L261.66,300.04 L262.20,302.00 L262.72,303.87 L263.27,305.82 L264.00,308.40 L265.04,312.06 L266.26,316.35 L267.40,320.50 L268.38,324.20 L269.28,327.76 L270.10,331.30 L270.84,334.92 L271.50,338.53 L272.10,342.00 L272.64,345.21 L273.11,348.29 L273.50,351.50 L273.77,355.00 L273.94,358.63 L274.10,362.20 L274.26,365.99 L274.40,369.70 L274.50,372.30" fill="none" stroke="#555555" stroke-width="1.15" stroke-linejoin="round" stroke-linecap="round" />
<path d="M275.50,340.70 L275.50,300.00 L274.70,283.80" fill="none" stroke="#a0a0a0" stroke-width="1.1" stroke-linejoin="round" stroke-linecap="round" />
<path d="M278.20,355.50 L278.00,320.00 L277.00,289.30" fill="none" stroke="#a0a0a0" stroke-width="1.1" stroke-linejoin="round" stroke-linecap="round" />
<path d="M279.70,330.00 L280.30,250.00 L281.00,296.00" fill="none" stroke="#8a8a8a" stroke-width="1.0" stroke-linejoin="round" stroke-linecap="round" />
<path d="M274.50,372.30 L274.70,283.80 L275.50,340.00 L276.20,300.00 L277.00,289.30 L277.60,346.00 L278.00,320.00 L278.60,294.80 L279.10,332.00 L279.70,279.90 L280.00,318.00 L280.30,250.00 L281.00,296.00 L281.70,274.30 L282.30,287.00 L282.90,295.00" fill="none" stroke="#5a5a5a" stroke-width="0.95" stroke-linejoin="round" stroke-linecap="round" />
<path d="M274.60,372.00 L275.30,330.00 L275.80,355.00 L276.60,320.00 L277.30,362.00 L278.20,355.50 L278.60,335.00 L279.30,310.00" fill="none" stroke="#444444" stroke-width="0.9" stroke-linejoin="round" stroke-linecap="round" />
<path d="M282.90,295.00 L283.25,297.50 L283.74,301.10 L284.31,305.00 L284.90,308.40 L285.52,311.17 L286.19,313.35 L286.87,315.40 L287.50,317.89 L288.05,319.82 L288.56,321.44 L289.07,322.12 L289.60,322.95 L290.13,323.96 L290.66,325.67 L291.25,327.10 L292.00,327.62 L292.98,328.28 L294.12,329.86 L295.31,332.42 L296.40,332.99 L297.30,333.01 L298.10,334.44 L298.95,334.57 L300.00,335.52 L301.28,336.39 L302.73,337.12 L304.30,338.56 L306.00,339.17 L307.79,339.84 L309.69,341.21 L311.74,342.36 L314.00,342.26 L316.54,343.99 L319.31,344.85 L322.18,346.40 L325.00,347.02 L327.68,348.65 L330.31,349.63 L333.04,350.46 L336.00,351.50" fill="none" stroke="#262626" stroke-width="1.6" stroke-linejoin="round" stroke-linecap="round" />
<path d="M336.00,351.50 L339.27,352.35 L342.75,353.16 L346.36,353.91 L350.00,354.60 L353.68,355.23 L357.44,355.81 L361.23,356.33 L365.00,356.80 L368.76,357.21 L372.53,357.57 L376.29,357.89 L380.00,358.20 L384.00,358.52 L388.19,358.84 L391.91,359.11 L394.50,359.30" fill="none" stroke="#585858" stroke-width="1.2" stroke-linejoin="round" stroke-linecap="round" />
<path d="M464.20,350.00 L465.00,318.00 L465.90,357.00 L466.90,322.00 L467.90,345.00 L469.00,316.00 L470.20,340.00 L471.50,322.00 L473.00,338.00 L474.00,318.00" fill="none" stroke="#8c8c8c" stroke-width="1.0" stroke-linejoin="round" stroke-linecap="round" />
<path d="M494.50,356.00 L495.80,344.00 L496.90,355.00 L498.40,346.00 L499.60,356.00 L500.80,345.00 L502.50,350.00" fill="none" stroke="#8c8c8c" stroke-width="1.0" stroke-linejoin="round" stroke-linecap="round" />
<path d="M446.90,255.81 L447.12,256.81 L447.44,261.12 L447.80,264.43 L448.20,268.08 L448.64,271.95 L449.10,275.09 L449.55,279.05 L450.01,282.16 L450.50,286.70 L451.03,289.07 L451.60,292.19 L452.20,295.52 L452.89,298.95 L453.60,302.40 L454.20,305.48 L454.52,307.22 L454.71,307.80 L455.10,309.79 L455.84,312.76 L456.76,316.98 L457.70,321.36 L458.62,324.42 L459.55,327.24 L460.40,330.25 L461.13,333.09 L461.79,335.90 L462.40,337.52 L463.02,339.93 L463.60,342.60 L464.00,343.63 L464.50,356.40 L465.60,315.70 L466.60,359.60 L467.70,331.30 L468.50,319.30 L469.80,334.50 L470.80,344.90 L472.10,327.20 L473.60,313.10 L474.30,328.20 L475.00,324.00 L476.20,329.30 L477.60,334.50 L479.70,328.20 L479.90,334.50 L480.79,335.90 L482.05,337.36 L483.30,338.83 L484.40,340.70 L485.50,341.21 L486.60,344.16 L487.73,344.81 L488.87,345.76 L490.00,347.60 L491.23,349.00 L492.45,349.80 L493.30,350.42 L494.10,360.40 L495.40,347.50 L496.60,358.70 L497.90,348.00 L499.10,352.90 L500.30,348.80 L501.20,354.60 L502.00,343.00 L504.10,345.90 L504.33,346.44 L504.64,347.18 L505.08,348.53 L505.70,349.06 L506.57,349.53 L507.64,350.50 L508.79,350.65 L509.90,350.98 L510.95,352.07 L512.01,352.60 L513.06,352.81 L514.10,353.03 L515.13,353.67 L516.15,352.90 L517.17,354.19 L518.20,354.37 L519.25,353.99 L520.30,355.02 L521.35,355.10 L522.40,356.07 L523.41,355.36 L524.40,355.97 L525.41,356.74 L526.50,357.10 L527.65,356.15 L528.85,356.93 L530.12,357.43 L531.50,357.39 L533.02,358.55 L534.66,358.05 L536.35,359.06 L538.00,358.93 L539.58,360.00 L541.13,359.62 L542.72,359.60 L544.40,359.30 L546.22,360.78 L548.12,360.82 L550.07,361.18 L552.00,361.60 L553.88,361.50 L555.74,361.27 L557.63,361.31 L559.60,361.42 L561.70,362.33 L563.90,361.50 L566.10,361.96 L568.20,362.19 L570.17,362.47 L572.07,362.66 L573.93,362.08 L575.80,361.99 L577.86,362.72 L580.02,363.29 L581.95,363.27 L583.30,363.18" fill="none" stroke="#262626" stroke-width="1.5" stroke-linejoin="round" stroke-linecap="round" />
<line x1="52.0" y1="437.4" x2="52.0" y2="595.8" stroke="#8a8a8a" stroke-width="1.3"/>
<path d="M40.60,575.50 L40.93,575.50 L41.27,575.50 L41.60,575.49 L41.93,575.49 L42.26,575.48 L42.60,575.47 L42.93,575.46 L43.26,575.44 L43.60,575.43 L43.93,575.42 L44.26,575.40 L44.59,575.38 L44.93,575.36 L45.26,575.35 L45.59,575.33 L45.93,575.30 L46.26,575.28 L46.59,575.26 L46.93,575.23 L47.26,575.20 L47.59,575.16 L47.92,575.11 L48.26,575.05 L48.59,574.98 L48.92,574.89 L49.26,574.77 L49.59,574.31 L49.92,573.44 L50.25,572.35 L50.59,571.17 L50.92,569.47 L51.25,567.60 L51.59,566.19 L51.92,564.98 L52.25,564.05 L52.58,563.82 L52.92,564.22 L53.25,564.93 L53.58,565.70 L53.92,566.70 L54.25,567.92 L54.58,569.18 L54.92,570.30 L55.25,571.09 L55.58,571.68 L55.91,572.22 L56.25,572.70 L56.58,573.12 L56.91,573.49 L57.25,573.80 L57.58,574.06 L57.91,574.30 L58.24,574.53 L58.58,574.75 L58.91,574.95 L59.24,575.11 L59.58,575.25 L59.91,575.35 L60.24,575.40 L60.57,575.41 L60.91,575.43 L61.24,575.44 L61.57,575.46 L61.91,575.47 L62.24,575.48 L62.57,575.49 L62.91,575.50 L63.24,575.51 L63.57,575.52 L63.90,575.53 L64.24,575.54 L64.57,575.55 L64.90,575.55 L65.24,575.56 L65.57,575.57 L65.90,575.57 L66.23,575.58 L66.57,575.58 L66.90,575.58 L67.23,575.59 L67.57,575.59 L67.90,575.59 L68.23,575.60 L68.56,575.60 L68.90,575.60 L69.23,575.60 L69.56,575.60 L69.90,575.60 L70.23,575.60 L70.56,575.60 L70.89,575.60 L71.23,575.60 L71.56,575.60 L71.89,575.60 L72.23,575.60 L72.56,575.60 L72.89,575.60 L73.23,575.60 L73.56,575.60 L73.89,575.60 L74.22,575.60 L74.56,575.60 L74.89,575.60 L75.22,575.60 L75.56,575.60 L75.89,575.60 L76.22,575.60 L76.55,575.60 L76.89,575.60 L77.22,575.60 L77.55,575.60 L77.89,575.60 L78.22,575.60 L78.55,575.60 L78.88,575.60 L79.22,575.60 L79.55,575.60 L79.88,575.60 L80.22,575.60 L80.55,575.60 L80.88,575.60 L81.22,575.60 L81.55,575.60 L81.88,575.60 L82.21,575.60 L82.55,575.60 L82.88,575.60 L83.21,575.60 L83.55,575.60 L83.88,575.60 L84.21,575.60 L84.54,575.60 L84.88,575.60 L85.21,575.60 L85.54,575.60 L85.88,575.60 L86.21,575.60 L86.54,575.60 L86.87,575.60 L87.21,575.60 L87.54,575.60 L87.87,575.60 L88.21,575.60 L88.54,575.60 L88.87,575.60 L89.21,575.60 L89.54,575.60 L89.87,575.60 L90.20,575.60 L90.54,575.60 L90.87,575.60 L91.20,575.60 L91.54,575.60 L91.87,575.60 L92.20,575.60 L92.53,575.60 L92.87,575.60 L93.20,575.60 L93.53,575.60 L93.87,575.60 L94.20,575.60 L94.53,575.60 L94.86,575.60 L95.20,575.60 L95.53,575.60 L95.86,575.60 L96.20,575.60 L96.53,575.60 L96.86,575.60 L97.19,575.60 L97.53,575.60 L97.86,575.60 L98.19,575.60 L98.53,575.60 L98.86,575.60 L99.19,575.60 L99.53,575.60 L99.86,575.60 L100.19,575.60 L100.52,575.60 L100.86,575.60 L101.19,575.60 L101.52,575.60 L101.86,575.60 L102.19,575.60 L102.52,575.60 L102.85,575.60 L103.19,575.60 L103.52,575.60 L103.85,575.60 L104.19,575.60 L104.52,575.60 L104.85,575.60 L105.18,575.60 L105.52,575.60 L105.85,575.60 L106.18,575.60 L106.52,575.60 L106.85,575.60 L107.18,575.60 L107.52,575.60 L107.85,575.60 L108.18,575.60 L108.51,575.60 L108.85,575.60 L109.18,575.60 L109.51,575.60 L109.85,575.60 L110.18,575.60 L110.51,575.60 L110.84,575.60 L111.18,575.60 L111.51,575.60 L111.84,575.60 L112.18,575.60 L112.51,575.60 L112.84,575.60 L113.17,575.60 L113.51,575.60 L113.84,575.60 L114.17,575.60 L114.51,575.60 L114.84,575.60 L115.17,575.60 L115.51,575.60 L115.84,575.60 L116.17,575.60 L116.50,575.60 L116.84,575.60 L117.17,575.60 L117.50,575.60 L117.84,575.60 L118.17,575.60 L118.50,575.60 L118.83,575.60 L119.17,575.60 L119.50,575.60 L119.83,575.60 L120.17,575.60 L120.50,575.60 L120.83,575.60 L121.16,575.60 L121.50,575.60 L121.83,575.60 L122.16,575.60 L122.50,575.60 L122.83,575.60 L123.16,575.60 L123.49,575.60 L123.83,575.60 L124.16,575.60 L124.49,575.60 L124.83,575.60 L125.16,575.60 L125.49,575.60 L125.83,575.60 L126.16,575.60 L126.49,575.60 L126.82,575.60 L127.16,575.60 L127.49,575.60 L127.82,575.60 L128.16,575.60 L128.49,575.60 L128.82,575.60 L129.15,575.60 L129.49,575.60 L129.82,575.60 L130.15,575.60 L130.49,575.60 L130.82,575.60 L131.15,575.60 L131.48,575.60 L131.82,575.60 L132.15,575.60 L132.48,575.60 L132.82,575.60 L133.15,575.60 L133.48,575.60 L133.82,575.60 L134.15,575.60 L134.48,575.60 L134.81,575.60 L135.15,575.60 L135.48,575.60 L135.81,575.60 L136.15,575.60 L136.48,575.60 L136.81,575.60 L137.14,575.60 L137.48,575.60 L137.81,575.60 L138.14,575.60 L138.48,575.60 L138.81,575.60 L139.14,575.60 L139.47,575.60 L139.81,575.60 L140.14,575.60 L140.47,575.60 L140.81,575.60 L141.14,575.60 L141.47,575.60 L141.81,575.60 L142.14,575.60 L142.47,575.60 L142.80,575.60 L143.14,575.60 L143.47,575.60 L143.80,575.60 L144.14,575.60 L144.47,575.60 L144.80,575.60 L145.13,575.60 L145.47,575.60 L145.80,575.60 L146.13,575.60 L146.47,575.60 L146.80,575.60 L147.13,575.60 L147.46,575.60 L147.80,575.60 L148.13,575.60 L148.46,575.60 L148.80,575.60 L149.13,575.60 L149.46,575.60 L149.79,575.60 L150.13,575.60 L150.46,575.60 L150.79,575.60 L151.13,575.60 L151.46,575.60 L151.79,575.60 L152.13,575.60 L152.46,575.60 L152.79,575.60 L153.12,575.60 L153.46,575.60 L153.79,575.60 L154.12,575.60 L154.46,575.60 L154.79,575.60 L155.12,575.60 L155.45,575.60 L155.79,575.60 L156.12,575.60 L156.45,575.60 L156.79,575.60 L157.12,575.60 L157.45,575.60 L157.78,575.60 L158.12,575.60 L158.45,575.60 L158.78,575.60 L159.12,575.60 L159.45,575.60 L159.78,575.60 L160.12,575.60 L160.45,575.60 L160.78,575.60 L161.11,575.60 L161.45,575.60 L161.78,575.60 L162.11,575.60 L162.45,575.60 L162.78,575.60 L163.11,575.60 L163.44,575.60 L163.78,575.60 L164.11,575.60 L164.44,575.60 L164.78,575.60 L165.11,575.60 L165.44,575.60 L165.77,575.60 L166.11,575.60 L166.44,575.60 L166.77,575.60 L167.11,575.60 L167.44,575.60 L167.77,575.60 L168.11,575.60 L168.44,575.60 L168.77,575.60 L169.10,575.60 L169.44,575.60 L169.77,575.60 L170.10,575.60 L170.44,575.60 L170.77,575.60 L171.10,575.60 L171.43,575.60 L171.77,575.60 L172.10,575.60 L172.43,575.60 L172.77,575.60 L173.10,575.60 L173.43,575.60 L173.76,575.60 L174.10,575.60 L174.43,575.60 L174.76,575.60 L175.10,575.60 L175.43,575.60 L175.76,575.60 L176.09,575.60 L176.43,575.60 L176.76,575.60 L177.09,575.60 L177.43,575.60 L177.76,575.60 L178.09,575.60 L178.43,575.60 L178.76,575.60 L179.09,575.60 L179.42,575.60 L179.76,575.60 L180.09,575.60 L180.42,575.60 L180.76,575.60 L181.09,575.60 L181.42,575.60 L181.75,575.60 L182.09,575.60 L182.42,575.60 L182.75,575.60 L183.09,575.60 L183.42,575.60 L183.75,575.60 L184.08,575.60 L184.42,575.60 L184.75,575.60 L185.08,575.60 L185.42,575.60 L185.75,575.60 L186.08,575.60 L186.42,575.60 L186.75,575.60 L187.08,575.60 L187.41,575.60 L187.75,575.60 L188.08,575.60 L188.41,575.60 L188.75,575.60 L189.08,575.60 L189.41,575.60 L189.74,575.60 L190.08,575.60 L190.41,575.60 L190.74,575.60 L191.08,575.60 L191.41,575.60 L191.74,575.60 L192.07,575.60 L192.41,575.60 L192.74,575.60 L193.07,575.60 L193.41,575.60 L193.74,575.60 L194.07,575.60 L194.41,575.60 L194.74,575.60 L195.07,575.60 L195.40,575.60 L195.74,575.60 L196.07,575.60 L196.40,575.60 L196.74,575.60 L197.07,575.60 L197.40,575.60 L197.73,575.60 L198.07,575.60 L198.40,575.60" fill="none" stroke="#707070" stroke-width="1.1" stroke-linejoin="round" stroke-linecap="round" />
<line x1="253.6" y1="437.4" x2="253.6" y2="596.0" stroke="#8a8a8a" stroke-width="1.3"/>
<path d="M243.10,570.90 L243.47,570.36 L244.00,569.65 L244.60,569.40 L245.28,570.16 L246.02,571.37 L246.70,572.00 L247.24,571.61 L247.71,570.65 L248.20,569.40 L248.75,567.70 L249.31,565.72 L249.80,564.20 L250.19,563.79 L250.51,563.84 L250.80,563.20 L251.06,561.56 L251.29,559.24 L251.50,556.00 L251.70,551.48 L251.89,546.04 L252.10,540.60 L252.38,534.87 L252.69,529.12 L252.90,525.10 L253.12,516.14 L253.40,505.00 L253.61,495.15 L253.80,487.60 L253.97,485.90 L254.20,485.90 L254.57,505.97 L255.00,523.90 L255.40,517.32 L255.80,505.00 L256.20,498.88 L256.60,497.00 L256.99,503.51 L257.40,512.00 L257.84,517.82 L258.30,519.90 L258.74,513.72 L259.20,505.00 L259.72,497.09 L260.20,492.60 L260.54,497.09 L260.80,505.00 L260.94,512.31 L261.10,520.00 L261.41,527.67 L261.80,535.40 L262.26,543.34 L262.80,550.90 L263.56,558.02 L264.20,563.20 L264.57,565.22 L265.10,568.04 L265.70,570.40 L266.36,571.89 L267.09,572.92 L267.80,573.50 L268.47,573.45 L269.13,572.95 L269.80,572.50 L270.47,572.20 L271.14,571.95 L271.90,572.00 L272.76,572.72 L273.70,573.74 L274.70,574.20 L275.74,573.40 L276.85,572.03 L278.10,571.30 L279.61,571.97 L281.27,573.29 L282.80,574.20 L284.06,574.15 L285.18,573.69 L286.30,573.40 L287.47,573.55 L288.63,573.87 L289.80,574.20 L290.93,574.54 L292.05,574.87 L293.30,575.00 L294.75,574.75 L296.32,574.29 L297.90,573.90 L299.51,573.65 L301.13,573.47 L302.60,573.40 L303.80,573.52 L304.86,573.76 L306.00,573.90 L307.38,573.80 L308.84,573.60 L310.10,573.60 L310.85,573.96 L311.40,574.50 L312.40,575.00 L314.21,575.39 L316.47,575.74 L318.80,576.00 L321.09,576.14 L323.44,576.19 L325.80,576.20 L328.39,576.16 L330.99,576.07 L332.80,576.00 L333.95,576.20 L335.09,576.10 L336.24,576.01 L337.38,575.93 L338.53,576.04 L339.67,576.25 L340.82,576.31 L341.97,576.23 L343.11,576.13 L344.26,576.23 L345.40,576.31 L346.55,576.15 L347.69,576.10 L348.84,576.17 L349.99,576.12 L351.13,576.07 L352.28,575.77 L353.42,575.77 L354.57,575.61 L355.72,575.81 L356.86,575.81 L358.01,576.06 L359.15,576.10 L360.30,576.23 L361.44,575.90 L362.59,575.82 L363.74,575.84 L364.88,576.14 L366.03,576.03 L367.17,575.98 L368.32,575.85 L369.46,575.94 L370.61,576.12 L371.76,576.14 L372.90,576.23 L374.05,576.21 L375.19,576.23 L376.34,576.22 L377.48,576.13 L378.63,576.21 L379.78,576.08 L380.92,576.07 L382.07,576.22 L383.21,576.19 L384.36,576.28 L385.51,576.13 L386.65,576.24 L387.80,576.37 L388.94,576.45 L390.09,576.38 L391.23,576.16 L392.38,576.14 L393.53,576.25 L394.67,576.32 L395.82,576.25 L396.96,576.35 L398.11,576.44 L399.25,576.37 L400.40,576.29" fill="none" stroke="#6e6e6e" stroke-width="1.3" stroke-linejoin="round" stroke-linecap="round" />
<line x1="439.6" y1="572.3" x2="587.5" y2="572.3" stroke="#6a6a6a" stroke-width="1.2"/>
<path d="M439.70,570.50 L439.97,570.49 L440.39,570.40 L441.00,569.80 L441.93,567.96 L443.04,565.60 L444.00,564.50 L444.64,565.84 L445.13,568.43 L445.60,570.50 L446.06,571.24 L446.50,571.46 L447.00,571.80 L447.63,572.73 L448.33,573.79 L449.00,574.20 L449.59,573.26 L450.15,571.67 L450.70,570.80 L451.20,571.49 L451.69,572.88 L452.30,573.80 L453.15,573.86 L454.12,573.44 L455.00,572.50 L455.70,570.82 L456.30,568.62 L456.90,566.50 L457.53,565.28 L458.15,564.14 L458.70,561.20 L459.13,553.84 L459.49,544.67 L459.90,539.70 L460.44,542.95 L461.04,550.39 L461.60,555.90 L462.05,556.44 L462.46,555.05 L462.90,554.80 L463.41,557.61 L463.95,561.56 L464.50,563.90 L465.07,563.00 L465.65,560.48 L466.20,558.50 L466.69,558.28 L467.15,558.60 L467.60,557.90 L468.04,554.13 L468.47,549.35 L468.90,548.20 L469.28,554.22 L469.66,563.88 L470.20,571.20 L471.00,573.70 L471.96,573.87 L472.90,573.20 L473.80,571.56 L474.68,569.07 L475.50,567.60 L476.19,568.32 L476.80,570.06 L477.50,571.20 L478.35,570.82 L479.28,569.84 L480.20,569.40 L481.07,570.12 L481.93,571.39 L482.80,572.50 L483.69,573.34 L484.60,574.03 L485.50,574.20 L486.41,573.73 L487.33,572.74 L488.20,571.20 L489.02,568.49 L489.80,565.21 L490.50,563.20 L491.09,563.61 L491.61,565.28 L492.10,566.50 L492.56,566.40 L493.00,565.86 L493.50,565.80 L494.12,566.82 L494.81,568.32 L495.50,569.40 L496.18,569.73 L496.86,569.64 L497.50,569.20 L498.06,568.10 L498.57,566.65 L499.10,565.80 L499.65,565.99 L500.21,566.79 L500.80,567.80 L501.44,569.01 L502.12,570.44 L502.80,571.80 L503.44,573.14 L504.09,574.41 L504.80,575.10 L505.60,574.76 L506.46,573.84 L507.40,573.20 L508.50,573.30 L509.69,573.68 L510.70,573.80 L511.35,573.27 L511.83,572.49 L512.50,572.10 L513.52,572.49 L514.73,573.27 L516.00,574.00 L517.33,574.50 L518.72,574.94 L520.00,575.40 L521.19,575.95 L522.26,576.51 L523.00,576.90 L523.72,576.96 L524.44,577.43 L525.16,576.69 L525.89,576.08 L526.61,576.07 L527.33,576.42 L528.05,576.61 L528.77,576.68 L529.49,575.96 L530.21,576.29 L530.93,576.99 L531.66,576.63 L532.38,576.62 L533.10,576.19 L533.82,576.43 L534.54,576.92 L535.26,576.65 L535.98,576.26 L536.71,576.61 L537.43,576.33 L538.15,575.45 L538.87,575.95 L539.59,576.29 L540.31,575.36 L541.03,575.31 L541.76,575.89 L542.48,575.74 L543.20,575.33 L543.92,575.82 L544.64,576.77 L545.36,576.67 L546.08,576.01 L546.80,576.26 L547.53,576.84 L548.25,576.57 L548.97,576.50 L549.69,577.04 L550.41,576.73 L551.13,575.99 L551.85,576.21 L552.58,576.64 L553.30,576.94 L554.02,576.33 L554.74,575.62 L555.46,575.80 L556.18,575.37 L556.90,575.76 L557.62,576.66 L558.35,576.32 L559.07,576.66 L559.79,577.28 L560.51,576.98 L561.23,576.81 L561.95,576.94 L562.67,576.25 L563.40,576.11 L564.12,576.89 L564.84,575.93 L565.56,575.83 L566.28,576.44 L567.00,576.61 L567.72,576.54 L568.44,576.22 L569.17,576.53 L569.89,576.19 L570.61,576.29 L571.33,576.60 L572.05,576.56 L572.77,576.39 L573.49,576.63 L574.22,577.08 L574.94,576.57 L575.66,576.58 L576.38,577.16 L577.10,577.62 L577.82,576.49 L578.54,576.12 L579.27,576.94 L579.99,576.55 L580.71,575.96 L581.43,576.50 L582.15,576.40 L582.87,576.12 L583.59,577.15 L584.31,576.28 L585.04,575.64 L585.76,575.76 L586.48,575.97 L587.20,577.10" fill="none" stroke="#7a7a7a" stroke-width="1.3" stroke-linejoin="round" stroke-linecap="round" />
<path d="M439.70,570.50 L439.97,570.49 L440.39,570.40 L441.00,569.80 L441.93,567.96" fill="none" stroke="#333333" stroke-width="1.2" stroke-linejoin="round" stroke-linecap="round" />
<path d="M445.13,568.43 L445.60,570.50 L446.06,571.24 L446.50,571.46 L447.00,571.80 L447.63,572.73 L448.33,573.79 L449.00,574.20 L449.59,573.26 L450.15,571.67 L450.70,570.80 L451.20,571.49 L451.69,572.88 L452.30,573.80 L453.15,573.86 L454.12,573.44 L455.00,572.50 L455.70,570.82 L456.30,568.62" fill="none" stroke="#333333" stroke-width="1.2" stroke-linejoin="round" stroke-linecap="round" />
<path d="M470.20,571.20 L471.00,573.70 L471.96,573.87 L472.90,573.20 L473.80,571.56 L474.68,569.07 L475.50,567.60 L476.19,568.32 L476.80,570.06 L477.50,571.20 L478.35,570.82 L479.28,569.84 L480.20,569.40 L481.07,570.12 L481.93,571.39 L482.80,572.50 L483.69,573.34 L484.60,574.03 L485.50,574.20 L486.41,573.73 L487.33,572.74 L488.20,571.20 L489.02,568.49" fill="none" stroke="#333333" stroke-width="1.2" stroke-linejoin="round" stroke-linecap="round" />
<path d="M494.12,566.82 L494.81,568.32 L495.50,569.40 L496.18,569.73 L496.86,569.64 L497.50,569.20 L498.06,568.10 L498.57,566.65" fill="none" stroke="#333333" stroke-width="1.2" stroke-linejoin="round" stroke-linecap="round" />
<path d="M500.21,566.79 L500.80,567.80 L501.44,569.01 L502.12,570.44 L502.80,571.80 L503.44,573.14 L504.09,574.41 L504.80,575.10 L505.60,574.76 L506.46,573.84 L507.40,573.20 L508.50,573.30 L509.69,573.68 L510.70,573.80 L511.35,573.27 L511.83,572.49 L512.50,572.10 L513.52,572.49 L514.73,573.27 L516.00,574.00 L517.33,574.50 L518.72,574.94 L520.00,575.40 L521.19,575.95 L522.26,576.51 L523.00,576.90 L523.72,576.96 L524.44,577.43 L525.16,576.69 L525.89,576.08 L526.61,576.07 L527.33,576.42 L528.05,576.61 L528.77,576.68 L529.49,575.96 L530.21,576.29 L530.93,576.99 L531.66,576.63 L532.38,576.62 L533.10,576.19 L533.82,576.43 L534.54,576.92 L535.26,576.65 L535.98,576.26 L536.71,576.61 L537.43,576.33 L538.15,575.45 L538.87,575.95 L539.59,576.29 L540.31,575.36 L541.03,575.31 L541.76,575.89 L542.48,575.74 L543.20,575.33 L543.92,575.82 L544.64,576.77 L545.36,576.67 L546.08,576.01 L546.80,576.26 L547.53,576.84 L548.25,576.57 L548.97,576.50 L549.69,577.04 L550.41,576.73 L551.13,575.99 L551.85,576.21 L552.58,576.64 L553.30,576.94 L554.02,576.33 L554.74,575.62 L555.46,575.80 L556.18,575.37 L556.90,575.76 L557.62,576.66 L558.35,576.32 L559.07,576.66 L559.79,577.28 L560.51,576.98 L561.23,576.81 L561.95,576.94 L562.67,576.25 L563.40,576.11 L564.12,576.89 L564.84,575.93 L565.56,575.83 L566.28,576.44 L567.00,576.61 L567.72,576.54 L568.44,576.22 L569.17,576.53 L569.89,576.19 L570.61,576.29 L571.33,576.60 L572.05,576.56 L572.77,576.39 L573.49,576.63 L574.22,577.08 L574.94,576.57 L575.66,576.58 L576.38,577.16 L577.10,577.62 L577.82,576.49 L578.54,576.12 L579.27,576.94 L579.99,576.55 L580.71,575.96 L581.43,576.50 L582.15,576.40 L582.87,576.12 L583.59,577.15 L584.31,576.28 L585.04,575.64 L585.76,575.76 L586.48,575.97 L587.20,577.10" fill="none" stroke="#333333" stroke-width="1.2" stroke-linejoin="round" stroke-linecap="round" />
<circle cx="599.1" cy="385" r="0.6" fill="#9a9a9a"/>
</svg>
</body></html>
